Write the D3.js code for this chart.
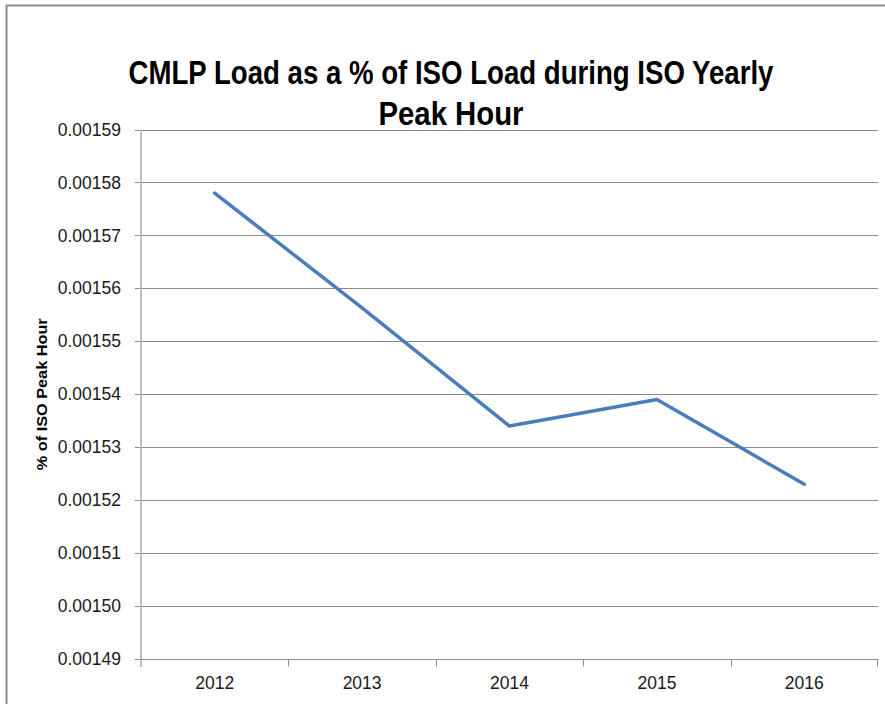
<!DOCTYPE html>
<html>
<head>
<meta charset="utf-8">
<script src="https://cdn.jsdelivr.net/npm/d3@7"></script>
<style>
  body { margin: 0; background: #fff; }
  svg { display: block; }
</style>
</head>
<body>
<svg id="chart"></svg>
<script>
const years = ['2012', '2013', '2014', '2015', '2016']
const loadShare = [0.001578, 0.0015563, 0.001534, 0.001539, 0.001523]
const yTicks = [0.00149, 0.0015, 0.00151, 0.00152, 0.00153, 0.00154, 0.00155, 0.00156, 0.00157, 0.00158, 0.00159]
const titleLines = ['CMLP Load as a % of ISO Load during ISO Yearly', 'Peak Hour']
const yLabel = '% of ISO Peak Hour'

let width = 885,
	height = 704
let svg = d3.select('svg#chart')
	.attr('width', width)
	.attr('height', height)

let plot = {left: 141, right: 878, top: 129.5, bottom: 659}

let x = d3.scaleBand()
	.domain(years)
	.range([plot.left, plot.right])
	.padding(0)

let y = d3.scaleLinear()
	.domain([0.00149, 0.00159])
	.range([plot.bottom, plot.top])

// chart frame (right/bottom edges fall outside the window)
svg.append('rect')
	.attr('x', 6.5).attr('y', 5.5)
	.attr('width', 900).attr('height', 720)
	.attr('fill', 'none')
	.attr('stroke', '#8c8c8c')
	.attr('stroke-width', 2)

// title - narrowed with scaleX to mimic the condensed original face
let titleWidths = [645, 145]
svg.append('g').selectAll('text')
	.data(titleLines)
	.enter().append('text')
	.attr('text-anchor', 'middle')
	.attr('font-family', 'Liberation Sans, sans-serif')
	.attr('font-weight', 'bold')
	.attr('font-size', 34)
	.attr('fill', '#000')
	.text(d => d)
	.each(function(d, i) {
		let k = titleWidths[i] / this.getComputedTextLength()
		d3.select(this).attr('transform', `translate(451,${84 + i * 41}) scale(${k},1)`)
	})

// gridlines
svg.append('g').selectAll('line')
	.data(yTicks)
	.enter().append('line')
	.attr('x1', plot.left - 6)
	.attr('x2', plot.right)
	.attr('y1', d => Math.round(y(d)) + 0.5)
	.attr('y2', d => Math.round(y(d)) + 0.5)
	.attr('stroke', '#8c8c8c')
	.attr('stroke-width', 1)

// y axis
let yAxis = svg.append('g')
	.attr('transform', `translate(${plot.left},0)`)
	.call(d3.axisLeft(y)
		.tickValues(yTicks)
		.tickFormat(d3.format('.5f'))
		.tickSize(0)
		.tickPadding(20))
yAxis.select('.domain')
	.attr('stroke', '#bdbdbd')
	.attr('stroke-width', 2)
	.attr('d', `M0,${plot.top}V${plot.bottom + 8}`)
yAxis.selectAll('text')
	.attr('font-family', 'Liberation Sans, sans-serif')
	.attr('font-size', 17.5)
	.attr('fill', '#1a1a1a')

// x axis
let xAxis = svg.append('g')
	.attr('transform', `translate(0,${Math.round(plot.bottom) + 0.5})`)
	.call(d3.axisBottom(x).tickSize(0).tickPadding(17))
xAxis.select('.domain')
	.attr('stroke', '#8c8c8c')
	.attr('d', `M${plot.left},0H${plot.right}`)
xAxis.selectAll('text')
	.attr('font-family', 'Liberation Sans, sans-serif')
	.attr('font-size', 17.5)
	.attr('fill', '#1a1a1a')

// x tick marks on category boundaries
xAxis.selectAll('line.bound')
	.data(years.slice(1).concat(['end']))
	.enter().append('line')
	.classed('bound', true)
	.attr('x1', d => d === 'end' ? plot.right - 0.5 : Math.round(x(d)) + 0.5)
	.attr('x2', d => d === 'end' ? plot.right - 0.5 : Math.round(x(d)) + 0.5)
	.attr('y1', 0)
	.attr('y2', 7)
	.attr('stroke', '#8c8c8c')

// y axis title
svg.append('text')
	.attr('text-anchor', 'middle')
	.attr('font-family', 'Liberation Sans, sans-serif')
	.attr('font-weight', 'bold')
	.attr('font-size', 15)
	.text(yLabel)
	.each(function() {
		let k = 152 / this.getComputedTextLength()
		d3.select(this).attr('transform',
			`translate(47,${(plot.top + plot.bottom) / 2}) rotate(-90) scale(${k},1)`)
	})

// series line
let line = d3.line()
	.x((d, i) => x(years[i]) + x.bandwidth() / 2)
	.y(d => y(d))

svg.append('path')
	.datum(loadShare)
	.attr('d', line)
	.attr('fill', 'none')
	.attr('stroke', '#4a7ebb')
	.attr('stroke-width', 3.5)
	.attr('stroke-linejoin', 'round')
	.attr('stroke-linecap', 'round')
</script>
</body>
</html>
